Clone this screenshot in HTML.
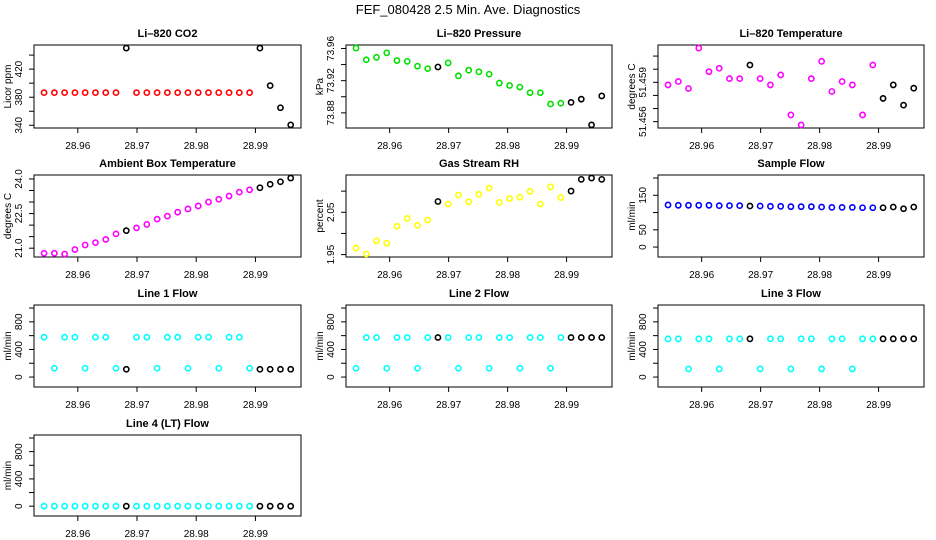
<!DOCTYPE html>
<html><head><meta charset="utf-8"><style>
html,body{margin:0;padding:0;background:#fff;}
svg{display:block;font-family:"Liberation Sans",sans-serif;}
</style></head><body>
<svg id="chart" width="936" height="540" viewBox="0 0 936 540">
<text x="468" y="14" text-anchor="middle" font-size="13">FEF_080428  2.5 Min. Ave. Diagnostics</text>
</svg>
<script>
const times = [28.9543,28.95604,28.95777,28.95951,28.96124,28.96298,28.96472,28.96645,28.96819,28.96992,28.97166,28.9734,28.97513,28.97687,28.9786,28.98034,28.98208,28.98381,28.98555,28.98728,28.98902,28.99076,28.99249,28.99423,28.99596];
const flagged = [8,21,22,23,24];
const co2 = [386.5,386.5,386.5,386.5,386.5,386.5,386.5,386.5,450,386.5,386.5,386.5,386.5,386.5,386.5,386.5,386.5,386.5,386.5,386.5,386.5,450,396.5,365,340.5];
const pressure = [73.9605,73.946,73.949,73.9545,73.945,73.944,73.938,73.935,73.937,73.942,73.926,73.933,73.931,73.928,73.917,73.914,73.912,73.905,73.905,73.891,73.892,73.893,73.897,73.865,73.901];
const liTemp = [51.4588,51.45906,51.45853,51.46161,51.45981,51.46007,51.45928,51.45928,51.46032,51.45928,51.4588,51.45956,51.45651,51.45575,51.45928,51.4606,51.4583,51.45906,51.4588,51.45651,51.46032,51.45777,51.4588,51.45726,51.45855];
const boxTemp = [20.78,20.78,20.75,20.94,21.14,21.24,21.38,21.62,21.76,21.88,22.03,22.26,22.39,22.56,22.70,22.83,23.00,23.12,23.26,23.43,23.53,23.62,23.77,23.88,24.04];
const rh = [1.9654,1.9515,1.9823,1.977,2.017,2.0354,2.0193,2.0316,2.0755,2.0693,2.0909,2.0747,2.0924,2.107,2.0732,2.0824,2.0855,2.0993,2.0693,2.1101,2.0847,2.1001,2.1278,2.1309,2.1278];
const sampleFlow = [122,121,121,121,121,120,120,120,119,119,118,118,117,117,117,116,115,115,115,114,114,114,116,111,116];
const line1 = [578,128,578,578,128,578,578,128,113,578,578,128,578,578,128,578,578,128,578,578,128,113,113,113,113];
const line2 = [128,573,573,128,573,573,128,573,573,573,128,573,573,128,573,573,128,573,573,128,573,573,573,573,573];
const line3 = [554,554,118,554,554,118,554,554,554,118,554,554,118,554,554,118,554,554,118,554,554,554,554,554,554];
const line4 = [0,0,0,0,0,0,0,0,0,0,0,0,0,0,0,0,0,0,0,0,0,0,0,0,0];
const xTicks = [28.96,28.97,28.98,28.99];
const xTickLabels = ["28.96","28.97","28.98","28.99"];

const svg = document.getElementById('chart');
const NS = 'http://www.w3.org/2000/svg';
function mk(tag, attrs, parent){const e=document.createElementNS(NS,tag);for(const k in attrs)e.setAttribute(k,attrs[k]);(parent||svg).appendChild(e);return e;}

const colL=[34,346,658], colR=[301,612,924], rowT=[45,175,305,435], rowB=[128,257,387,516];
const xMin=28.9526, xMax=28.9977;

const panels = [
 {name:'li820-co2',title:'Li\u2013820 CO2',ylab:'Licor ppm',data:co2,color:'#ff0000',r:0,c:0,ticks:[340,360,380,400,420,440],labels:{340:'340',380:'380',420:'420'}},
 {name:'li820-pressure',title:'Li\u2013820 Pressure',ylab:'kPa',data:pressure,color:'#00e000',r:0,c:1,ticks:[73.88,73.9,73.92,73.94,73.96],labels:{73.88:'73.88',73.92:'73.92',73.96:'73.96'}},
 {name:'li820-temperature',title:'Li\u2013820 Temperature',ylab:'degrees C',data:liTemp,color:'#ff00ff',r:0,c:2,ticks:[51.456,51.457,51.458,51.459,51.46,51.461],labels:{51.456:'51.456',51.459:'51.459'}},
 {name:'ambient-box-temperature',title:'Ambient Box Temperature',ylab:'degrees C',data:boxTemp,color:'#ff00ff',r:1,c:0,ticks:[21,21.5,22,22.5,23,23.5,24],labels:{21:'21.0',22.5:'22.5',24:'24.0'}},
 {name:'gas-stream-rh',title:'Gas Stream RH',ylab:'percent',data:rh,color:'#ffff00',r:1,c:1,ticks:[1.95,2.0,2.05,2.1],labels:{1.95:'1.95',2.05:'2.05'}},
 {name:'sample-flow',title:'Sample Flow',ylab:'ml/min',data:sampleFlow,color:'#0000ff',r:1,c:2,ticks:[0,50,100,150,200],labels:{0:'0',50:'50',150:'150'},ylim:[-20,200]},
 {name:'line1-flow',title:'Line 1 Flow',ylab:'ml/min',data:line1,color:'#00ffff',r:2,c:0,ticks:[0,200,400,600,800,1000],labels:{0:'0',400:'400',800:'800'},ylim:[-100,1000]},
 {name:'line2-flow',title:'Line 2 Flow',ylab:'ml/min',data:line2,color:'#00ffff',r:2,c:1,ticks:[0,200,400,600,800,1000],labels:{0:'0',400:'400',800:'800'},ylim:[-100,1000]},
 {name:'line3-flow',title:'Line 3 Flow',ylab:'ml/min',data:line3,color:'#00ffff',r:2,c:2,ticks:[0,200,400,600,800,1000],labels:{0:'0',400:'400',800:'800'},ylim:[-100,1000]},
 {name:'line4-flow',title:'Line 4 (LT) Flow',ylab:'ml/min',data:line4,color:'#00ffff',r:3,c:0,ticks:[0,200,400,600,800,1000],labels:{0:'0',400:'400',800:'800'},ylim:[-100,1000]},
];

panels.forEach(p=>{
  const L=colL[p.c], R=colR[p.c], T=rowT[p.r], B=rowB[p.r];
  let lo,hi;
  if(p.ylim){lo=p.ylim[0];hi=p.ylim[1];}else{lo=Math.min(...p.data);hi=Math.max(...p.data);}
  const pad=(hi-lo)*0.04; lo-=pad; hi+=pad;
  const xs=v=>L+(v-xMin)/(xMax-xMin)*(R-L);
  const ys=v=>B-(v-lo)/(hi-lo)*(B-T);
  const g=mk('g',{});
  
  
  const t=mk('text',{x:(L+R)/2,y:T-8,'text-anchor':'middle','font-size':'11','font-weight':'bold'},g);
  t.textContent=p.title;
  
  
  const box=mk('rect',{x:L,y:T,width:R-L,height:B-T,fill:'none',stroke:'#000','stroke-width':'1'},g);
  
  
  xTicks.forEach((v,i)=>{
    const x=xs(v);
    mk('line',{x1:x,x2:x,y1:B,y2:B+5,stroke:'#000'},g);
    const tl=mk('text',{x:x,y:B+21,'text-anchor':'middle','font-size':'10'},g);
    tl.textContent=xTickLabels[i];
    
    
  });
  p.ticks.forEach(v=>{
    const y=ys(v);
    mk('line',{x1:L,x2:L-5,y1:y,y2:y,stroke:'#000'},g);
    const lab=p.labels[v];
    if(lab!==undefined){
      const tl=mk('text',{x:0,y:0,'text-anchor':'middle','font-size':'10',transform:`translate(${L-12},${y}) rotate(-90)`},g);
      tl.textContent=lab;
      
      
    }
  });
  const yl=mk('text',{x:0,y:0,'text-anchor':'middle','font-size':'10',transform:`translate(${L-23},${(T+B)/2}) rotate(-90)`},g);
  yl.textContent=p.ylab;
  
  
  p.data.forEach((v,i)=>{
    const c=mk('circle',{cx:xs(times[i]),cy:ys(v),r:2.6,fill:'none',stroke:flagged.includes(i)?'#000':p.color,'stroke-width':'1.6'},g);
    
    
  });
});
</script>
</body></html>
